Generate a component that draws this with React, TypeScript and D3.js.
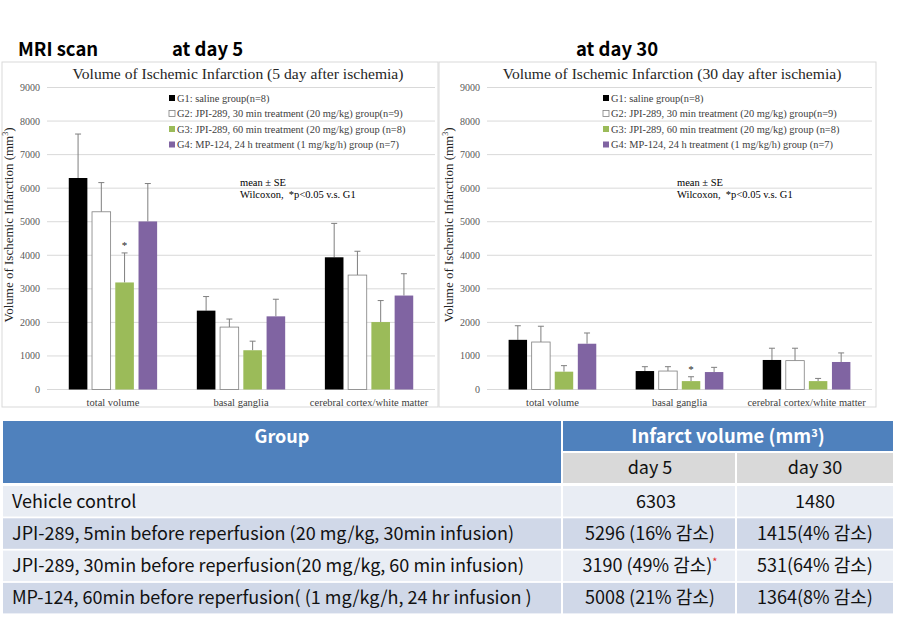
import React from "react";
import * as d3 from "d3";

// ---------- data ----------
const categories = ["total volume", "basal ganglia", "cerebral cortex/white matter"];
const groupKeys = ["G1", "G2", "G3", "G4"];
const groupLabels = [
  "G1: saline group(n=8)",
  "G2: JPI-289, 30 min treatment (20 mg/kg) group(n=9)",
  "G3: JPI-289, 60 min treatment (20 mg/kg) group (n=8)",
  "G4: MP-124, 24 h treatment (1 mg/kg/h) group (n=7)",
];
const groupColors = ["#000000", "#ffffff", "#9BBB59", "#8064A2"];

// day 5 means (per group, per category) and SE
const day5Mean = [
  [6303, 2350, 3940],
  [5296, 1860, 3410],
  [3190, 1170, 2010],
  [5008, 2180, 2800],
];
const day5SE = [
  [1310, 420, 1010],
  [870, 240, 710],
  [880, 270, 640],
  [1130, 510, 650],
];
// day 30
const day30Mean = [
  [1480, 550, 880],
  [1415, 550, 860],
  [531, 250, 250],
  [1364, 520, 820],
];
const day30SE = [
  [420, 130, 350],
  [470, 130, 370],
  [180, 130, 80],
  [320, 140, 270],
];
// significance markers: [group index, category index]
const day5Sig = [[2, 0]];
const day30Sig = [[2, 1]];

const yTicks = [0, 1000, 2000, 3000, 4000, 5000, 6000, 7000, 8000, 9000];

// table
const tableGroups = [
  "Vehicle control",
  "JPI-289, 5min before reperfusion (20 mg/kg, 30min infusion)",
  "JPI-289, 30min before reperfusion(20 mg/kg, 60 min infusion)",
  "MP-124, 60min before reperfusion( (1 mg/kg/h, 24 hr infusion )",
];
const tableDay5 = ["6303", "5296 (16% 감소)", "3190 (49% 감소)", "5008 (21% 감소)"];
const tableDay30 = ["1480", "1415(4% 감소)", "531(64% 감소)", "1364(8% 감소)"];
const tableStar = [false, false, true, false];

const SERIF = "'Liberation Serif', 'Times New Roman', serif";
const KR = "'Noto Sans CJK KR', 'Noto Sans', sans-serif";

type ChartProps = {
  px: number; // panel left
  pw: number; // panel width
  plotL: number;
  plotR: number;
  title: string;
  titleX: number;
  legendX: number;
  noteX: number;
  yTitleX: number;
  means: number[][];
  ses: number[][];
  sig: number[][];
};

function Chart(p: ChartProps) {
  const y = d3.scaleLinear().domain([0, 9000]).range([389.5, 87.5]);
  const x0 = d3
    .scaleBand<string>()
    .domain(categories)
    .range([p.plotL, p.plotR])
    .paddingInner(0.31)
    .paddingOuter(0.17);
  const x1 = d3
    .scaleBand<string>()
    .domain(groupKeys)
    .range([0, x0.bandwidth()])
    .paddingInner(0.2);
  const legendY = d3.scalePoint<string>().domain(groupKeys).range([98, 144.5]);

  return (
    <g>
      <rect x={p.px} y={62} width={p.pw} height={345} fill="#fff" stroke="#d9d9d9" strokeWidth={1} />
      <text x={p.titleX} y={79} textAnchor="middle" fontFamily={SERIF} fontSize={15.6} fill="#262626">
        {p.title}
      </text>
      {yTicks.map((t) => (
        <g key={t}>
          <line x1={p.plotL} x2={p.plotR} y1={y(t)} y2={y(t)} stroke="#d9d9d9" strokeWidth={1} />
          <text x={p.plotL - 7} y={y(t)} dy="0.35em" textAnchor="end" fontFamily={SERIF} fontSize={10} fill="#595959">
            {t}
          </text>
        </g>
      ))}
      <text
        transform={`translate(${p.yTitleX},225) rotate(-90)`}
        textAnchor="middle"
        fontFamily={SERIF}
        fontSize={13}
        fill="#262626"
      >
        Volume of Ischemic Infarction (mm<tspan dy="-5" fontSize={8}>3</tspan>
        <tspan dy="5">)</tspan>
      </text>
      {/* legend */}
      {groupKeys.map((g, i) => (
        <g key={g}>
          <rect
            x={p.legendX}
            y={legendY(g)! - 3}
            width={6}
            height={6}
            fill={groupColors[i]}
            stroke={i === 1 ? "#7f7f7f" : "none"}
            strokeWidth={0.8}
          />
          <text x={p.legendX + 8} y={legendY(g)!} dy="0.35em" fontFamily={SERIF} fontSize={10.4} fill="#404040">
            {groupLabels[i]}
          </text>
        </g>
      ))}
      <text x={p.noteX} y={182} dy="0.35em" fontFamily={SERIF} fontSize={10.5} fill="#000">
        mean ± SE
      </text>
      <text x={p.noteX} y={194} dy="0.35em" fontFamily={SERIF} fontSize={10.5} fill="#000" xmlSpace="preserve">
        Wilcoxon,  *p{"<"}0.05 v.s. G1
      </text>
      {/* bars */}
      {groupKeys.map((g, gi) =>
        categories.map((c, ci) => {
          const bx = x0(c)! + x1(g)!;
          const bw = x1.bandwidth();
          const v = p.means[gi][ci];
          const top = y(v + p.ses[gi][ci]);
          const cx = bx + bw / 2;
          return (
            <g key={g + c}>
              <line x1={cx} x2={cx} y1={y(v)} y2={top} stroke="#7f7f7f" strokeWidth={1} />
              <line x1={cx - 3} x2={cx + 3} y1={top} y2={top} stroke="#7f7f7f" strokeWidth={1} />
              <rect
                x={bx}
                y={y(v)}
                width={bw}
                height={y(0) - y(v)}
                fill={groupColors[gi]}
                stroke={gi === 1 ? "#7f7f7f" : "none"}
                strokeWidth={0.8}
              />
            </g>
          );
        })
      )}
      {p.sig.map(([gi, ci]) => {
        const cx = x0(categories[ci])! + x1(groupKeys[gi])! + x1.bandwidth() / 2;
        const top = y(p.means[gi][ci] + p.ses[gi][ci]);
        return (
          <text key={`s${gi}${ci}`} x={cx} y={top - 4} textAnchor="middle" fontFamily={SERIF} fontSize={11} fill="#262626">
            *
          </text>
        );
      })}
      {categories.map((c) => (
        <text
          key={c}
          x={x0(c)! + x0.bandwidth() / 2}
          y={402}
          dy="0.35em"
          textAnchor="middle"
          fontFamily={SERIF}
          fontSize={10.5}
          fill="#404040"
        >
          {c}
        </text>
      ))}
    </g>
  );
}

function Table() {
  const cols = [3, 563, 737, 893];
  const rowY = d3.range(tableGroups.length).map((i) => 486 + i * 32.3);
  const rowH = 30.5;
  const rowFill = (i: number) => (i % 2 === 0 ? "#E9EDF4" : "#D0D8E8");
  const fs = 18;
  return (
    <g fontFamily={KR}>
      <rect x={cols[0]} y={421} width={cols[1] - 2 - cols[0]} height={62} fill="#4F81BD" />
      <rect x={cols[1]} y={421} width={cols[3] - cols[1]} height={30} fill="#4F81BD" />
      <rect x={cols[1]} y={453} width={cols[2] - 2 - cols[1]} height={30} fill="#D9D9D9" />
      <rect x={cols[2]} y={453} width={cols[3] - cols[2]} height={30} fill="#D9D9D9" />
      <text x={282} y={437} dy="0.35em" textAnchor="middle" fontSize={18} fontWeight="bold" fill="#fff">
        Group
      </text>
      <text x={728} y={437} dy="0.35em" textAnchor="middle" fontSize={18.5} fontWeight="bold" fill="#fff">
        Infarct volume (mm<tspan dy="-6" fontSize={11}>3</tspan>
        <tspan dy="6">)</tspan>
      </text>
      <text x={(cols[1] + cols[2]) / 2} y={468} dy="0.35em" textAnchor="middle" fontSize={fs} fill="#111">
        day 5
      </text>
      <text x={(cols[2] + cols[3]) / 2} y={468} dy="0.35em" textAnchor="middle" fontSize={fs} fill="#111">
        day 30
      </text>
      {tableGroups.map((g, i) => (
        <g key={g}>
          <rect x={cols[0]} y={rowY[i]} width={cols[1] - 2 - cols[0]} height={rowH} fill={rowFill(i)} />
          <rect x={cols[1]} y={rowY[i]} width={cols[2] - 2 - cols[1]} height={rowH} fill={rowFill(i)} />
          <rect x={cols[2]} y={rowY[i]} width={cols[3] - cols[2]} height={rowH} fill={rowFill(i)} />
          <text x={12} y={rowY[i] + rowH / 2} dy="0.35em" fontSize={fs} fill="#111">
            {g}
          </text>
          <text
            x={(cols[1] + cols[2]) / 2 + (i === 0 ? 6 : 0)}
            y={rowY[i] + rowH / 2}
            dy="0.35em"
            textAnchor="middle"
            fontSize={fs}
            fill="#111"
          >
            {tableDay5[i]}
            {tableStar[i] ? (
              <tspan dy="-6" fontSize={11} fill="#e03030">
                *
              </tspan>
            ) : null}
          </text>
          <text x={(cols[2] + cols[3]) / 2} y={rowY[i] + rowH / 2} dy="0.35em" textAnchor="middle" fontSize={fs} fill="#111">
            {tableDay30[i]}
          </text>
        </g>
      ))}
    </g>
  );
}

export default function App() {
  return (
    <svg
      width={921}
      height={619}
      viewBox="0 0 921 619"
      style={{ position: "absolute", left: 0, top: 0, background: "#fff" }}
    >
      <rect x={0} y={0} width={921} height={619} fill="#fff" />
      <g fontFamily={KR} fontWeight="bold" fontSize={18.5} fill="#000">
        <text x={18} y={56}>MRI scan</text>
        <text x={172} y={56}>at day 5</text>
        <text x={576} y={56}>at day 30</text>
      </g>
      <Chart
        px={2}
        pw={436}
        plotL={47}
        plotR={435}
        title="Volume of Ischemic Infarction (5 day after ischemia)"
        titleX={238}
        legendX={169}
        noteX={240}
        yTitleX={13}
        means={day5Mean}
        ses={day5SE}
        sig={day5Sig}
      />
      <Chart
        px={439}
        pw={437}
        plotL={487}
        plotR={872}
        title="Volume of Ischemic Infarction (30 day after ischemia)"
        titleX={672}
        legendX={603}
        noteX={677}
        yTitleX={453}
        means={day30Mean}
        ses={day30SE}
        sig={day30Sig}
      />
      <Table />
    </svg>
  );
}
